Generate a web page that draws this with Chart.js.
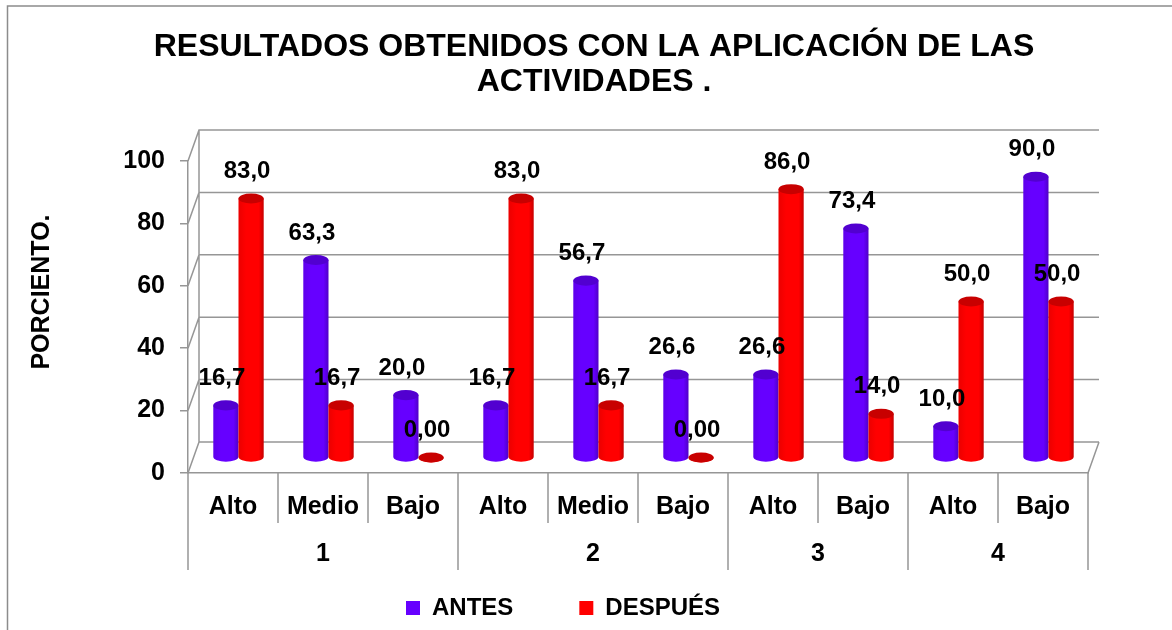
<!DOCTYPE html>
<html>
<head>
<meta charset="utf-8">
<script src="https://cdn.jsdelivr.net/npm/chart.js@4.4.1/dist/chart.umd.min.js"></script>
<style>
  html, body { margin: 0; padding: 0; background: #fff; }
</style>
</head>
<body>
<canvas id="chart" width="1172" height="630"></canvas>
<script>
// nivel per bar, and the activity group each run of bars belongs to
const levels = ['Alto', 'Medio', 'Bajo', 'Alto', 'Medio', 'Bajo', 'Alto', 'Bajo', 'Alto', 'Bajo'];
const groups = ['1', '2', '3', '4'];
const groupSizes = [3, 3, 2, 2];

// percentages
const antes   = [16.7, 63.3, 20.0, 16.7, 56.7, 26.6, 26.6, 73.4, 10.0, 90.0];
const despues = [83.0, 16.7, 0.00, 83.0, 16.7, 0.00, 86.0, 14.0, 50.0, 50.0];

const yTicks = [0, 20, 40, 60, 80, 100];

const FONT = 'Arial, "Liberation Sans", sans-serif';
const GRID = '#969696';
const DEPTH_X = 11, DEPTH_Y = 31;     // 3d wall depth
const TITLE_CENTER = 594, LEGEND_CENTER = 563;

// group centres / boundaries in category units
const groupCenters = [], groupEdges = [0];
let acc = 0;
groupSizes.forEach(n => { groupCenters.push(acc + (n - 1) / 2); acc += n; groupEdges.push(acc); });

const fmt = v => v === 0 ? '0,00' : v.toFixed(1).replace('.', ',');

function shade(hex, k) {
  const n = parseInt(hex.slice(1), 16);
  const c = [n >> 16, (n >> 8) & 255, n & 255].map(x => Math.max(0, Math.min(255, Math.round(x * k))));
  return 'rgb(' + c.join(',') + ')';
}

function drawCylinder(ctx, cx, top, base, w, color, cap) {
  const rx = w / 2, ry = rx * 0.4;
  const g = ctx.createLinearGradient(cx - rx, 0, cx + rx, 0);
  g.addColorStop(0, shade(color, 0.92));
  g.addColorStop(0.3, color);
  g.addColorStop(0.8, color);
  g.addColorStop(1, shade(color, 0.78));
  ctx.fillStyle = g;
  ctx.beginPath();
  ctx.moveTo(cx - rx, top);
  ctx.lineTo(cx - rx, base);
  ctx.ellipse(cx, base, rx, ry, 0, Math.PI, 0, true);
  ctx.lineTo(cx + rx, top);
  ctx.closePath();
  ctx.fill();
  ctx.fillStyle = cap;
  ctx.beginPath();
  ctx.ellipse(cx, top, rx, ry, 0, 0, Math.PI * 2);
  ctx.fill();
}

const frame = {
  id: 'frame',
  beforeDraw(chart) {
    const ctx = chart.ctx;
    ctx.save();
    ctx.fillStyle = '#fff';
    ctx.fillRect(0, 0, chart.width, chart.height);
    ctx.strokeStyle = '#8c8c8c';
    ctx.lineWidth = 1.5;
    ctx.strokeRect(7.5, 6, chart.width + 20, chart.height + 20);
    ctx.restore();
  },
  afterLayout(chart) {
    const t = chart.titleBlock, l = chart.legend;
    const dt = TITLE_CENTER - (t.left + t.right) / 2;
    t.left += dt; t.right += dt;
    const dl = LEGEND_CENTER - (l.left + l.right) / 2;
    l.left += dl; l.right += dl;
  }
};

const walls = {
  id: 'walls',
  beforeDatasetsDraw(chart) {
    const { ctx, chartArea: a, scales: { y } } = chart;
    ctx.save();
    ctx.strokeStyle = GRID;
    ctx.lineWidth = 1.5;
    ctx.beginPath();
    yTicks.forEach(v => {
      const p = y.getPixelForValue(v);
      ctx.moveTo(a.left, p);
      ctx.lineTo(a.left + DEPTH_X, p - DEPTH_Y);
      ctx.lineTo(a.right + DEPTH_X, p - DEPTH_Y);
    });
    ctx.moveTo(a.left + DEPTH_X, y.getPixelForValue(0) - DEPTH_Y);
    ctx.lineTo(a.left + DEPTH_X, y.getPixelForValue(100) - DEPTH_Y);
    ctx.moveTo(a.right, a.bottom);
    ctx.lineTo(a.right + DEPTH_X, a.bottom - DEPTH_Y);
    ctx.stroke();
    ctx.restore();
  },
  // skip the flat bars, cylinders are drawn below
  beforeDatasetDraw() { return false; },
  afterDatasetsDraw(chart) {
    const ctx = chart.ctx;
    const caps = ['#5200d0', '#c80000'];
    ctx.save();
    chart.data.datasets.forEach((ds, i) => {
      chart.getDatasetMeta(i).data.forEach(bar => {
        drawCylinder(ctx, bar.x + DEPTH_X / 2, bar.y - DEPTH_Y / 2, bar.base - DEPTH_Y / 2,
                     bar.width, ds.backgroundColor, caps[i]);
      });
    });
    ctx.fillStyle = '#000';
    ctx.font = 'bold 24px ' + FONT;
    ctx.textAlign = 'center';
    ctx.textBaseline = 'middle';
    chart.data.datasets.forEach((ds, i) => {
      chart.getDatasetMeta(i).data.forEach((bar, j) => {
        ctx.fillText(fmt(ds.data[j]), bar.x + DEPTH_X / 2 - 4, bar.y - DEPTH_Y / 2 - 27);
      });
    });
    ctx.restore();
  },
  afterDraw(chart) {
    const { ctx, chartArea: a, scales: { x } } = chart;
    ctx.save();
    // category / group dividers under the floor
    ctx.strokeStyle = GRID;
    ctx.lineWidth = 1.5;
    ctx.beginPath();
    for (let b = 0; b <= levels.length; b++) {
      const px = x.getPixelForValue(b - 0.5);
      const end = groupEdges.includes(b) ? a.bottom + 97 : a.bottom + 50;
      ctx.moveTo(px, a.bottom);
      ctx.lineTo(px, end);
    }
    ctx.stroke();
    // second row of the axis: activity number
    ctx.fillStyle = '#000';
    ctx.font = 'bold 25px ' + FONT;
    ctx.textAlign = 'center';
    ctx.textBaseline = 'middle';
    groups.forEach((g, i) => ctx.fillText(g, x.getPixelForValue(groupCenters[i]), a.bottom + 81));
    // axis title
    ctx.translate(42, (a.top + a.bottom) / 2 - 25);
    ctx.rotate(-Math.PI / 2);
    ctx.fillText('PORCIENTO.', 0, 0);
    ctx.restore();
  }
};

new Chart(document.getElementById('chart'), {
  type: 'bar',
  data: {
    labels: levels,
    datasets: [
      { label: 'ANTES', data: antes, backgroundColor: '#6600ff' },
      { label: 'DESPUÉS', data: despues, backgroundColor: '#ff0000' }
    ]
  },
  options: {
    responsive: false,
    animation: false,
    devicePixelRatio: 1,
    layout: { padding: { top: 10, left: 24, right: 84, bottom: 0 } },
    datasets: { bar: { barPercentage: 1, categoryPercentage: 0.56 } },
    plugins: {
      title: {
        display: true,
        text: ['RESULTADOS OBTENIDOS CON LA APLICACIÓN DE LAS', 'ACTIVIDADES .'],
        color: '#000',
        font: { family: FONT, size: 32, weight: 'bold', lineHeight: 35 / 32 },
        padding: { top: 20, bottom: 61 }
      },
      legend: {
        position: 'bottom',
        labels: {
          color: '#000',
          font: { family: FONT, size: 24, weight: 'bold' },
          boxWidth: 14, boxHeight: 14,
          padding: 66
        }
      },
      tooltip: { enabled: false }
    },
    scales: {
      x: {
        grid: { display: false, drawTicks: false },
        border: { display: true, color: GRID, width: 1.5 },
        ticks: { color: '#000', font: { family: FONT, size: 25, weight: 'bold' }, padding: 19, autoSkip: false, maxRotation: 0 },
        afterFit: s => { s.height = 57; }
      },
      y: {
        min: 0, max: 100,
        afterBuildTicks: s => { s.ticks = yTicks.map(v => ({ value: v })); },
        grid: { drawOnChartArea: false, drawTicks: true, tickLength: 8, color: GRID, lineWidth: 1.5 },
        border: { display: true, color: GRID, width: 1.5 },
        ticks: { color: '#000', font: { family: FONT, size: 25, weight: 'bold' }, padding: 15 },
        afterFit: s => { s.width = 164; }
      }
    }
  },
  plugins: [frame, walls]
});
</script>
</body>
</html>
